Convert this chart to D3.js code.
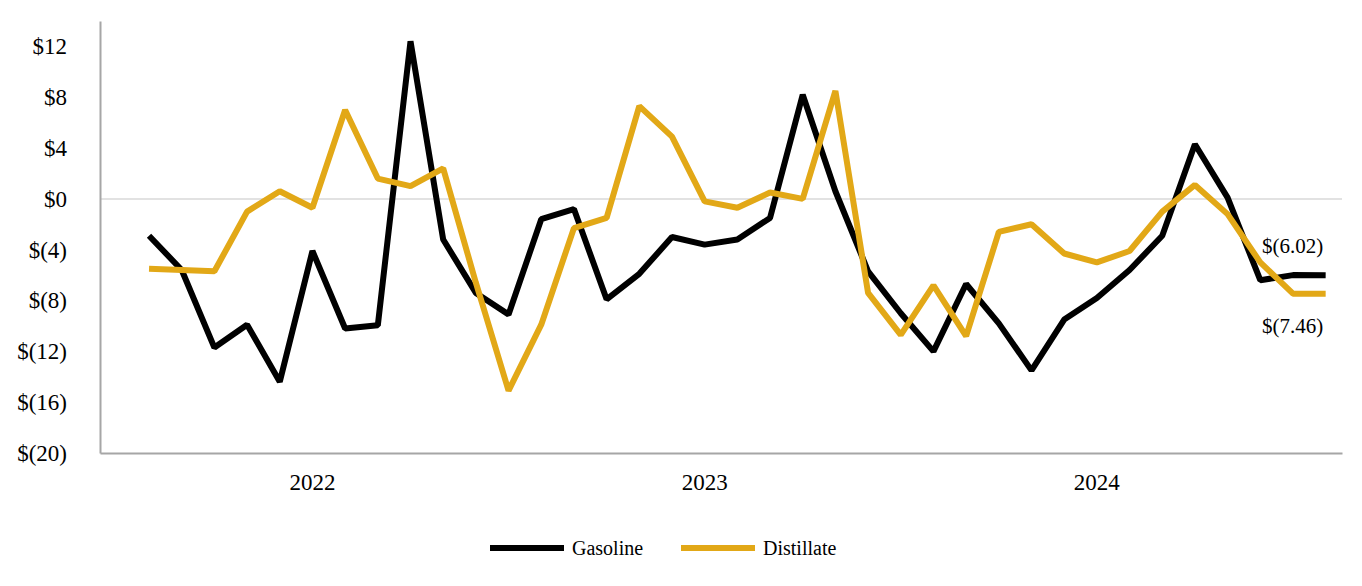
<!DOCTYPE html>
<html>
<head>
<meta charset="utf-8">
<script src="https://cdn.jsdelivr.net/npm/d3@7"></script>
<style>
  body { margin: 0; background: #fff; }
  text { font-family: "Liberation Serif", "Times New Roman", serif; fill: #000; }
</style>
</head>
<body>
<div id="chart"></div>
<script>
// months on the category axis, first slot left empty as in the source chart
var months = [
  'Jul 2021', 'Aug 2021', 'Sep 2021', 'Oct 2021', 'Nov 2021', 'Dec 2021',
  'Jan 2022', 'Feb 2022', 'Mar 2022', 'Apr 2022', 'May 2022', 'Jun 2022',
  'Jul 2022', 'Aug 2022', 'Sep 2022', 'Oct 2022', 'Nov 2022', 'Dec 2022',
  'Jan 2023', 'Feb 2023', 'Mar 2023', 'Apr 2023', 'May 2023', 'Jun 2023',
  'Jul 2023', 'Aug 2023', 'Sep 2023', 'Oct 2023', 'Nov 2023', 'Dec 2023',
  'Jan 2024', 'Feb 2024', 'Mar 2024', 'Apr 2024', 'May 2024', 'Jun 2024',
  'Jul 2024', 'Aug 2024'
];
var yearTicks = ['Jan 2022', 'Jan 2023', 'Jan 2024'];

var gasoline = [
  null,
  -2.9, -5.6, -11.7, -9.9, -14.4, -4.1, -10.2, -9.95, 12.4, -3.2, -7.4, -9.1,
  -1.6, -0.8, -7.9, -5.9, -3.0, -3.6, -3.2, -1.5, 8.2, 0.6, -5.7, -9.0,
  -12.0, -6.7, -9.8, -13.5, -9.5, -7.8, -5.6, -2.9, 4.3, 0.1, -6.4, -6.0,
  -6.02
];
var distillate = [
  null,
  -5.5, -5.6, -5.7, -1.0, 0.6, -0.7, 7.0, 1.6, 1.0, 2.4, -6.6, -15.1,
  -9.9, -2.3, -1.5, 7.3, 4.9, -0.2, -0.7, 0.5, 0.0, 8.5, -7.4, -10.7,
  -6.8, -10.8, -2.6, -2.0, -4.3, -5.0, -4.1, -1.0, 1.1, -1.2, -5.0, -7.46,
  -7.46
];
var yTicks = [-20, -16, -12, -8, -4, 0, 4, 8, 12];

var seriesNames = ['Gasoline', 'Distillate'];
var seriesColors = ['#000000', '#e2a817'];

var width = 1362, height = 586;
var plotLeft = 100, plotRight = 1342, plotTop = 21, plotBottom = 453;

var svg = d3.select('#chart')
  .append('svg')
  .attr('width', width)
  .attr('height', height);

var x = d3.scaleBand().domain(months).range([plotLeft, plotRight]).padding(0);
var y = d3.scaleLinear().domain([-20, 14]).range([plotBottom, plotTop]);

function cx(m) { return x(m) + x.bandwidth() / 2; }

function money(v) {
  return v < 0 ? '$(' + Math.abs(v) + ')' : '$' + v;
}

// zero line
svg.append('line')
  .attr('x1', plotLeft).attr('x2', plotRight)
  .attr('y1', y(0)).attr('y2', y(0))
  .attr('stroke', '#d9d9d9')
  .attr('stroke-width', 1.5);

// y axis
var yAxis = svg.append('g')
  .attr('transform', 'translate(' + plotLeft + ',0)')
  .call(d3.axisLeft(y).tickValues(yTicks).tickSize(0).tickPadding(33).tickFormat(money));
yAxis.select('.domain').attr('stroke', '#a6a6a6').attr('stroke-width', 2);
yAxis.selectAll('text')
  .attr('font-size', '23px')
  .style('font-family', '"Liberation Serif", "Times New Roman", serif');

// x axis
var xAxis = svg.append('g')
  .attr('transform', 'translate(0,' + plotBottom + ')')
  .call(d3.axisBottom(x).tickValues(yearTicks).tickSize(0).tickPadding(21)
    .tickFormat(function(m) { return m.slice(4); }));
xAxis.select('.domain').attr('stroke', '#a6a6a6').attr('stroke-width', 2);
xAxis.selectAll('text')
  .attr('font-size', '23px')
  .style('font-family', '"Liberation Serif", "Times New Roman", serif');

// lines
var line = d3.line()
  .defined(function(d) { return d.v != null; })
  .x(function(d) { return cx(d.m); })
  .y(function(d) { return y(d.v); });

[gasoline, distillate].forEach(function(vals, i) {
  var pts = months.map(function(m, j) { return { m: m, v: vals[j] }; });
  svg.append('path')
    .datum(pts)
    .attr('fill', 'none')
    .attr('stroke', seriesColors[i])
    .attr('stroke-width', 6)
    .attr('stroke-linejoin', 'bevel')
    .attr('d', line);
});

// end labels
var lastM = months[months.length - 1];
var lastG = gasoline[gasoline.length - 1];
var lastD = distillate[distillate.length - 1];
svg.append('text')
  .attr('x', cx(lastM) - 33)
  .attr('y', y(lastG) - 22)
  .attr('text-anchor', 'middle')
  .attr('font-size', '21px')
  .text('$(' + Math.abs(lastG).toFixed(2) + ')');
svg.append('text')
  .attr('x', cx(lastM) - 33)
  .attr('y', y(lastD) + 39)
  .attr('text-anchor', 'middle')
  .attr('font-size', '21px')
  .text('$(' + Math.abs(lastD).toFixed(2) + ')');

// legend
var legendX = [490, 681];
var legend = svg.append('g');
seriesNames.forEach(function(name, i) {
  legend.append('line')
    .attr('x1', legendX[i]).attr('x2', legendX[i] + 74)
    .attr('y1', 548).attr('y2', 548)
    .attr('stroke', seriesColors[i])
    .attr('stroke-width', 6);
  legend.append('text')
    .attr('x', legendX[i] + 82)
    .attr('y', 548)
    .attr('dy', '0.35em')
    .attr('font-size', '20px')
    .text(name);
});
</script>
</body>
</html>
